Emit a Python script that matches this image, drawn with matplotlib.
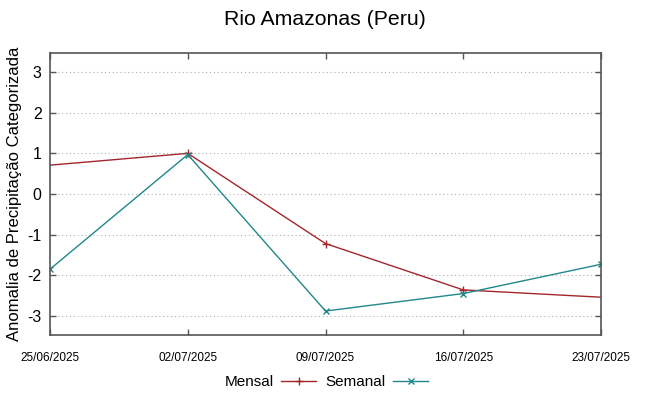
import datetime as dt
import matplotlib
matplotlib.use("Agg")
import matplotlib.pyplot as plt

plt.rcParams["font.family"] = ["Liberation Sans", "DejaVu Sans"]
plt.rcParams["axes.unicode_minus"] = False

dates = [dt.date(2025, 6, 25), dt.date(2025, 7, 2), dt.date(2025, 7, 9),
         dt.date(2025, 7, 16), dt.date(2025, 7, 23)]
date_labels = [d.strftime("%d/%m/%Y") for d in dates]
mensal = [0.71, 1.0, -1.22, -2.36, -2.54]
semanal = [-1.85, 0.97, -2.88, -2.45, -1.73]
y_ticks = [-3, -2, -1, 0, 1, 2, 3]

red = "#a3262b"
teal = "#21878a"

fig = plt.figure(figsize=(6.49, 3.96), dpi=100)
ax = fig.add_axes([50 / 649, 1 - 335 / 396, 551 / 649, 282 / 396])

ax.plot(dates, mensal, color=red, lw=1.0, marker="+", ms=6, mew=1.0,
        markevery=[1, 2, 3], label="Mensal")
ax.plot(dates, semanal, color=teal, lw=1.0, marker="x", ms=4.5, mew=1.0,
        label="Semanal")

ax.set_xlim(dates[0], dates[-1])
ax.set_ylim(-3.47, 3.47)
ax.set_xticks(dates)
ax.set_xticklabels(date_labels, fontsize=8.5)
ax.set_yticks(y_ticks)
ax.tick_params(axis="y", labelsize=11.5)
ax.tick_params(direction="in", top=True, right=True, length=4, width=1,
               color="#555555", pad=6)
ax.tick_params(axis="x", pad=12)
ax.grid(axis="y", color="#b0b0b0", ls=(0, (1, 2.5)), lw=0.8)
for s in ax.spines.values():
    s.set_color("#555555")
    s.set_linewidth(1.2)

ax.set_ylabel("Anomalia de Precipitação Categorizada", fontsize=12, labelpad=4)
fig.suptitle("Rio Amazonas (Peru)", fontsize=15.3, y=0.975)

fig.legend(loc="center", bbox_to_anchor=(0.503, 1 - 382 / 396), ncol=2,
           frameon=False, fontsize=11, markerfirst=False, handlelength=2.3,
           columnspacing=0.6, handletextpad=0.5)

fig.savefig("out.png", dpi=100)
